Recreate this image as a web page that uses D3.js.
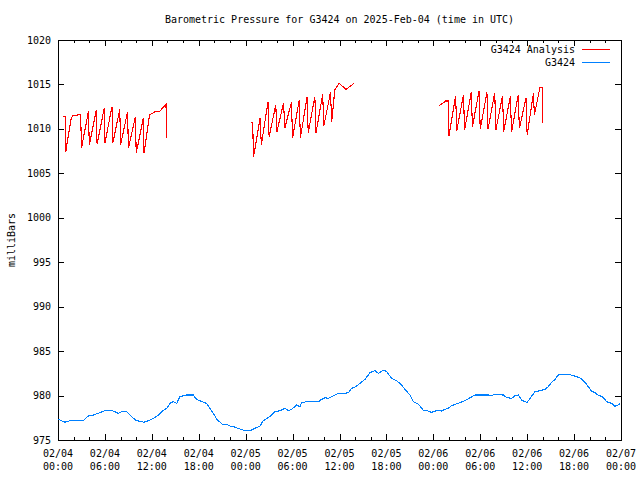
<!DOCTYPE html>
<html><head><meta charset="utf-8">
<script src="https://cdn.jsdelivr.net/npm/d3@7"></script>
<style>
body{margin:0;background:#fff}
svg{display:block}
text{font-family:"DejaVu Sans Mono","Liberation Mono",monospace;font-size:10px;fill:#000}
</style>
</head><body>
<svg id="chart" width="640" height="480"></svg>
<script>
// ---- data ----
const titleText = "Barometric Pressure for G3424 on 2025-Feb-04 (time in UTC)";
const yLabelText = "milliBars";
const seriesNames = ["G3424 Analysis", "G3424"];
const seriesColors = ["#ff0000", "#0080ff"];

const yTicks = [975, 980, 985, 990, 995, 1000, 1005, 1010, 1015, 1020];
const xTickHours = [0, 6, 12, 18, 24, 30, 36, 42, 48, 54, 60, 66, 72];
const xTickDates = ["02/04","02/04","02/04","02/04","02/05","02/05","02/05","02/05","02/06","02/06","02/06","02/06","02/07"];
const xTickTimes = ["00:00","06:00","12:00","18:00","00:00","06:00","12:00","18:00","00:00","06:00","12:00","18:00","00:00"];
const xMinorStep = 2; // hours

// Analysis series (hours since 02/04 00:00 UTC); null breaks the line
const analysisHours = [
  0.67, 0.92, 1.00, 1.25, 1.50, 1.70, 1.85, 2.40, 2.90,
  3.00, 3.90, 4.00, 4.90, 5.00, 5.90, 6.00, 6.90, 7.00, 7.90, 8.00, 8.90,
  9.00, 9.90, 10.00, 10.90, 11.00, 11.70, 12.40, 13.04, 13.81, 13.90,
  null,
  24.67, 24.90, 25.00, 25.85, 26.00, 26.85, 27.00, 27.85, 28.00, 28.85,
  29.00, 29.85, 30.00, 30.85, 31.00, 31.85, 32.00, 32.85, 33.00, 33.85,
  34.00, 34.85, 35.00, 35.40, 35.94, 36.83, 37.86,
  null,
  48.73, 48.95, 49.30, 49.55, 49.92, 50.00, 50.85, 51.00, 51.85, 52.00,
  52.85, 53.00, 53.85, 54.00, 54.85, 55.00, 55.85, 56.00, 56.85, 57.00,
  57.85, 58.00, 58.85, 59.00, 59.85, 60.00, 60.80, 60.92, 61.64, 61.95, 62.00
];
const analysisValues = [
  1011.37, 1011.37, 1007.44, 1008.9, 1010.2, 1011.2, 1011.45, 1011.55, 1011.64,
  1007.81, 1012.01, 1008.19, 1012.13, 1008.26, 1012.31, 1008.37, 1012.5, 1008.37, 1012.2, 1008.19, 1011.94,
  1007.81, 1011.37, 1007.25, 1011.19, 1007.25, 1011.56, 1011.94, 1012.01, 1012.8, 1008.94,
  null,
  1010.74, 1010.74, 1006.8, 1011.26, 1008.19, 1012.99, 1009.13, 1012.69, 1009.69, 1012.95,
  1010.06, 1012.99, 1009.01, 1013.25, 1009.01, 1013.55, 1009.57, 1013.62, 1009.57, 1013.89,
  1010.33, 1014.11, 1010.81, 1014.37, 1015.12, 1014.45, 1015.12,
  null,
  1012.58, 1012.75, 1012.95, 1013.14, 1013.14, 1009.24, 1013.7, 1009.8, 1013.81, 1009.88,
  1014.11, 1010.25, 1014.26, 1009.95, 1014.11, 1009.95, 1014.07, 1009.88, 1013.74, 1009.69,
  1013.7, 1009.61, 1013.81, 1010.06, 1013.44, 1009.31, 1014.0, 1011.56, 1014.68, 1014.68, 1010.7
];

// Observed series
const obsHours = [
  0.00, 0.26, 0.68, 0.90, 1.53, 3.24, 3.87, 4.51, 5.37, 6.01, 6.86, 7.29, 7.71, 8.14, 8.78,
  9.21, 9.63, 10.06, 10.70, 11.00, 11.55, 12.19, 12.83, 13.26, 13.90, 14.32, 14.74, 15.18,
  15.60, 16.45, 17.30, 17.73, 18.16, 19.01, 19.44, 19.86, 20.29, 20.72, 21.14, 21.57, 22.00,
  22.42, 23.27, 23.91, 24.77, 25.19, 25.83, 26.25, 26.89, 27.32, 27.75, 28.39, 29.03, 29.45,
  29.88, 30.52, 30.95, 31.16, 31.80, 33.29, 33.72, 34.14, 34.57, 35.00, 35.64, 36.28, 37.12,
  37.55, 37.98, 38.62, 39.26, 39.90, 40.54, 40.96, 41.60, 42.03, 42.67, 43.31, 43.95, 44.37,
  45.01, 45.43, 46.07, 46.71, 47.35, 47.78, 48.42, 49.06, 49.49, 49.91, 50.34, 50.77, 51.41,
  52.05, 52.69, 53.33, 55.03, 55.24, 55.88, 56.95, 57.37, 58.01, 58.44, 58.86, 59.29, 59.72,
  60.01, 60.36, 61.00, 61.42, 62.28, 62.70, 63.13, 63.56, 63.98, 64.62, 65.26, 65.90, 66.33,
  66.75, 67.39, 67.81, 68.24, 68.67, 69.09, 69.73, 70.16, 70.80, 71.23, 71.65, 71.87
];
const obsValues = [
  977.3, 977.25, 977.06, 977.0, 977.17, 977.17, 977.7, 977.81, 978.07, 978.3, 978.3, 978.19, 978.0, 978.19, 978.19,
  977.81, 977.44, 977.17, 977.06, 977.0, 977.17, 977.44, 977.81, 978.19, 978.56, 979.12, 979.31, 979.12,
  979.87, 980.06, 980.06, 979.57, 979.4, 979.12, 978.56, 978.0, 977.36, 977.0, 976.69, 976.76, 976.57,
  976.5, 976.24, 976.05, 976.12, 976.31, 976.57, 977.17, 977.51, 977.81, 978.19, 978.3, 978.56, 978.3,
  978.45, 978.94, 978.75, 979.2, 979.31, 979.31, 979.57, 979.76, 979.68, 979.87, 980.17, 980.25, 980.3,
  980.81, 980.94, 981.37, 981.82, 982.57, 982.8, 982.5, 982.87, 982.69, 981.94, 981.66, 981.19, 980.7,
  980.06, 979.31, 979.05, 978.37, 978.26, 978.11, 978.3, 978.26, 978.45, 978.56, 978.86, 979.0, 979.2,
  979.43, 979.76, 980.06, 980.06, 979.94, 980.13, 980.06, 979.8, 979.68, 979.98, 980.06, 979.5, 979.31,
  979.24, 979.68, 980.44, 980.5, 980.7, 981.0, 981.49, 981.82, 982.31, 982.39, 982.39, 982.24, 982.12,
  982.0, 981.49, 981.0, 980.5, 980.31, 980.06, 979.8, 979.31, 979.12, 978.8, 978.94, 979.12
];

// ---- chart ----
const plot = {left: 58, right: 621, top: 40, bottom: 440};
const svg = d3.select("#chart");

const x = d3.scaleLinear().domain([0, 72]).range([plot.left, plot.right]);
const y = d3.scaleLinear().domain([975, 1020]).range([plot.bottom, plot.top]);

const px = v => Math.round(v) + 0.5;

// title
svg.append("text").attr("x", (plot.left + plot.right) / 2).attr("y", 23)
  .attr("text-anchor", "middle").text(titleText);

// y label
svg.append("text").attr("transform", `translate(15,${(plot.top + plot.bottom) / 2}) rotate(-90)`)
  .attr("text-anchor", "middle").text(yLabelText);

const g = svg.append("g").attr("shape-rendering", "crispEdges");

// ticks
const majorLen = 6, minorLen = 3;
const minorHours = d3.range(0, 72 + 1e-9, xMinorStep).filter(h => !xTickHours.includes(h));

function tick(x1, y1, x2, y2) {
  g.append("line").attr("x1", x1).attr("y1", y1).attr("x2", x2).attr("y2", y2)
    .attr("stroke", "#000").attr("stroke-width", 1);
}
xTickHours.forEach(h => {
  const xx = px(x(h));
  tick(xx, plot.bottom, xx, plot.bottom - majorLen);
  tick(xx, plot.top, xx, plot.top + majorLen);
});
minorHours.forEach(h => {
  const xx = px(x(h));
  tick(xx, plot.bottom, xx, plot.bottom - minorLen);
  tick(xx, plot.top, xx, plot.top + minorLen);
});
yTicks.forEach(v => {
  const yy = px(y(v));
  tick(plot.left, yy, plot.left + majorLen, yy);
  tick(plot.right, yy, plot.right - majorLen, yy);
});

// tick labels
svg.selectAll(".ylab").data(yTicks).join("text")
  .attr("x", plot.left - 7).attr("y", d => y(d) + 3.5)
  .attr("text-anchor", "end").text(d => d);

const xl = svg.selectAll(".xlab").data(xTickHours).join("text")
  .attr("text-anchor", "middle");
xl.append("tspan").attr("x", d => x(d)).attr("y", plot.bottom + 17).text((d, i) => xTickDates[i]);
xl.append("tspan").attr("x", d => x(d)).attr("y", plot.bottom + 30).text((d, i) => xTickTimes[i]);

// border
g.append("rect").attr("x", plot.left + 0.5).attr("y", plot.top + 0.5)
  .attr("width", plot.right - plot.left).attr("height", plot.bottom - plot.top)
  .attr("fill", "none").attr("stroke", "#000");

// lines
svg.append("clipPath").attr("id", "clip").append("rect")
  .attr("x", plot.left).attr("y", plot.top).attr("width", plot.right - plot.left + 1).attr("height", plot.bottom - plot.top + 1);

const analysisData = analysisHours.map((h, i) => ({h, v: analysisValues[i]}));
const obsData = obsHours.map((h, i) => ({h, v: obsValues[i]}));

const line = d3.line().defined(d => d.h != null && d.v != null)
  .x(d => x(d.h)).y(d => y(d.v));

svg.append("path").datum(analysisData).attr("d", line)
  .attr("fill", "none").attr("stroke", seriesColors[0]).attr("stroke-width", 1.1)
  .attr("shape-rendering", "crispEdges")
  .attr("clip-path", "url(#clip)");
svg.append("path").datum(obsData).attr("d", line)
  .attr("fill", "none").attr("stroke", seriesColors[1]).attr("stroke-width", 1.1)
  .attr("shape-rendering", "crispEdges")
  .attr("clip-path", "url(#clip)");

// legend
const legend = svg.append("g");
seriesNames.forEach((name, i) => {
  const ly = 49.5 + i * 13;
  legend.append("text").attr("x", 575).attr("y", ly + 3.5).attr("text-anchor", "end").text(name);
  legend.append("line").attr("x1", 582).attr("x2", 610).attr("y1", Math.round(ly) - 0.5).attr("y2", Math.round(ly) - 0.5)
    .attr("stroke", seriesColors[i]).attr("stroke-width", 1).attr("shape-rendering", "crispEdges");
});
</script>
</body></html>
